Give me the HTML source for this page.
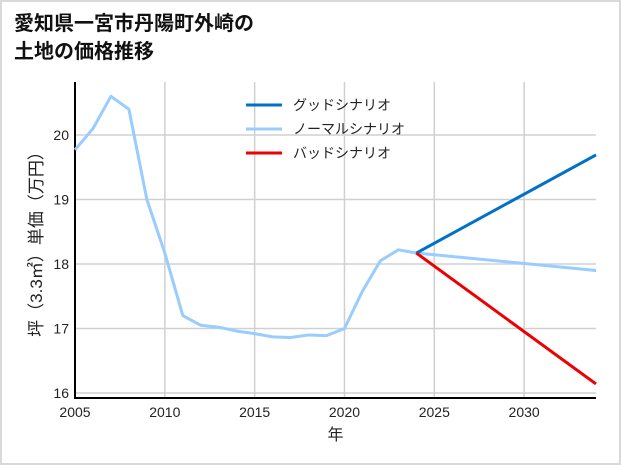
<!DOCTYPE html>
<html><head><meta charset="utf-8"><style>
html,body{margin:0;padding:0;background:#fff}
#wrap{position:relative;width:617px;height:461px;border:2px solid #d9d9d9;background:#fff;font-family:"Liberation Sans","Noto Sans CJK JP",sans-serif}
#title{position:absolute;left:12px;top:8px;font-size:20px;font-weight:bold;line-height:28px;color:#111;font-family:"Liberation Sans","Noto Sans CJK JP",sans-serif}
svg{position:absolute;left:-2px;top:-2px}
text{font-family:"Liberation Sans","Noto Sans CJK JP",sans-serif;fill:#222}
</style></head><body>
<div id="wrap">
<div id="title">愛知県一宮市丹陽町外崎の<br>土地の価格推移</div>
<svg id="chart" width="621" height="465"></svg>
</div>
<script>
const years=[2005,2006,2007,2008,2009,2010,2011,2012,2013,2014,2015,2016,2017,2018,2019,2020,2021,2022,2023,2024];
const history=[19.77,20.1,20.6,20.4,19.0,18.17,17.2,17.05,17.02,16.96,16.92,16.87,16.86,16.9,16.89,17.0,17.58,18.05,18.22,18.17];
const scenarioYears=[2024,2034];
const goodValues=[18.17,19.69];
const normalValues=[18.17,17.9];
const badValues=[18.17,16.14];
const xTicks=[2005,2010,2015,2020,2025,2030];
const yTicks=[16,17,18,19,20];
const legendLabels=["グッドシナリオ","ノーマルシナリオ","バッドシナリオ"];
const colors=["#0070c8","#99ccff","#ee0000"];

const L=75,R=596,T=82,B=398;
const x=v=>L+(v-2005)*(R-L)/29;
const y=v=>264-(v-18)*64.5;
const svg=document.getElementById('chart');
const NS='http://www.w3.org/2000/svg';
function mk(tag,attrs){const e=document.createElementNS(NS,tag);for(const k in attrs)e.setAttribute(k,attrs[k]);svg.appendChild(e);return e;}
xTicks.forEach(t=>{
  const g=mk('line',{x1:x(t),x2:x(t),y1:T,y2:B,stroke:'#d0d0d0','stroke-width':1.5});
  
  
  const tx=mk('text',{x:x(t),y:B+19,'text-anchor':'middle','font-size':14});
  tx.textContent=t;
  
  
});
yTicks.forEach(t=>{
  const g=mk('line',{x1:L,x2:R,y1:y(t),y2:y(t),stroke:'#d0d0d0','stroke-width':1.5});
  
  
  const tx=mk('text',{x:L-6,y:y(t)+5,'text-anchor':'end','font-size':14});
  tx.textContent=t;
  
  
});
const ax=mk('path',{d:`M${L},${T}V${B}H${R}`,fill:'none',stroke:'#000','stroke-width':2});


function line(xs,vs,c,name){
  const p=mk('polyline',{points:xs.map((v,i)=>x(v)+','+y(vs[i])).join(' '),fill:'none',stroke:c,'stroke-width':3,'stroke-linejoin':'round'});
  
  
}
line(years,history,colors[1],'history-line');
line(scenarioYears,normalValues,colors[1],'normal-scenario-line');
line(scenarioYears,goodValues,colors[0],'good-scenario-line');
line(scenarioYears,badValues,colors[2],'bad-scenario-line');
legendLabels.forEach((lb,i)=>{
  const yy=105+i*24;
  const l=mk('line',{x1:246,x2:282,y1:yy,y2:yy,stroke:colors[i],'stroke-width':3});
  
  
  const t=mk('text',{x:293,y:yy+5,'font-size':14});
  t.textContent=lb;
  
  
});
const xt=mk('text',{x:(L+R)/2,y:440,'text-anchor':'middle','font-size':16});
xt.textContent='年';


const yt=mk('text',{x:0,y:0,'text-anchor':'middle','font-size':17,transform:`translate(42,${(T+B)/2}) rotate(-90)`});
yt.textContent='坪（3.3㎡）単価（万円）';


</script>
</body></html>
